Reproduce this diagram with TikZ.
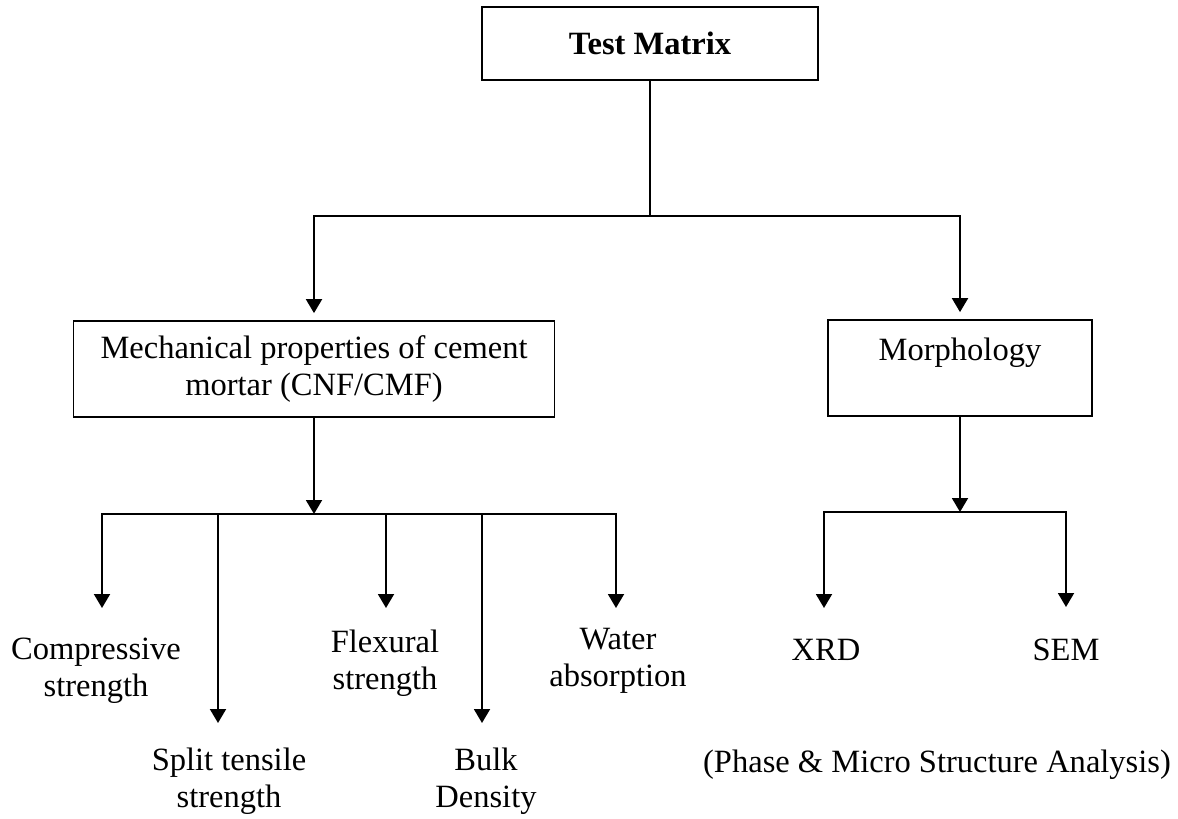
\documentclass[tikz,border=0pt]{standalone}
\usepackage{fontspec}
\setmainfont{Liberation Serif}
\usetikzlibrary{arrows.meta,positioning}

\begin{document}
\begin{tikzpicture}[
    x=0.2mm, y=-0.2mm,
    box/.style={draw, line width=1pt, inner sep=0pt, align=center, font=\fontsize{18.5}{21}\selectfont},
    lbl/.style={inner sep=0pt, align=center, font=\fontsize{18.5}{21}\selectfont},
    line/.style={line width=1.1pt, line cap=rect},
    arrow/.style={line width=1.1pt, -{Triangle[width=3.2mm,length=2.8mm]}}
]
\useasboundingbox (0,0) rectangle (1178,818);

% Top box
\node[box, minimum width=6.72cm, minimum height=1.46cm, font=\fontsize{18.5}{21}\selectfont\bfseries] (test) at (650,43.5) {Test Matrix};

% Second tier
\node[box, minimum width=9.62cm, minimum height=1.92cm] (mech) at (314,369) {Mechanical properties of cement\\mortar (CNF/CMF)};
\node[box, minimum width=5.28cm, minimum height=1.92cm] (morph) at (960,368) {Morphology\\ \mbox{}};

% Top split
\coordinate (topsplit) at (650,216);
\draw[line] (test) -- (topsplit);
\draw[arrow, shorten >=1.4mm] (topsplit) -| (mech);
\draw[arrow, shorten >=1.4mm] (topsplit) -| (morph);

% Mechanical tests
\coordinate (mechbus) at (314,514);
\coordinate (b1) at (102,514);
\coordinate (b2) at (218,514);
\coordinate (b3) at (386,514);
\coordinate (b4) at (482,514);
\coordinate (b5) at (616,514);
\coordinate (e1) at (102,608);
\coordinate (e2) at (218,723);
\coordinate (e3) at (386,608);
\coordinate (e4) at (482,723);
\coordinate (e5) at (616,608);
\draw[arrow] (mech) -- (mechbus);
\draw[line] (b1) -- (b5);
\draw[arrow] (b1) -- (e1);
\draw[arrow] (b2) -- (e2);
\draw[arrow] (b3) -- (e3);
\draw[arrow] (b4) -- (e4);
\draw[arrow] (b5) -- (e5);

\node[lbl] (comp) at (96,671) {Compressive\\strength};
\node[lbl] (split) at (229,781) {Split tensile\\strength};
\node[lbl] (flex) at (385,663) {Flexural\\strength};
\node[lbl] (bulk) at (486,781) {Bulk\\Density};
\node[lbl] (water) at (618,661) {Water\\absorption};

% Morphology tests
\coordinate (morphbus) at (960,512);
\coordinate (m1) at (824,512);
\coordinate (m2) at (1066,512);
\coordinate (f1) at (824,608);
\coordinate (f2) at (1066,607);
\draw[arrow] (morph) -- (morphbus);
\draw[line] (m1) -- (m2);
\draw[arrow] (m1) -- (f1);
\draw[arrow] (m2) -- (f2);

\node[lbl] (xrd) at (826,650) {XRD};
\node[lbl] (sem) at (1066,650) {SEM};
\node[lbl] (phase) at (937,765) {(Phase \& Micro Structure Analysis)};
\end{tikzpicture}
\end{document}
